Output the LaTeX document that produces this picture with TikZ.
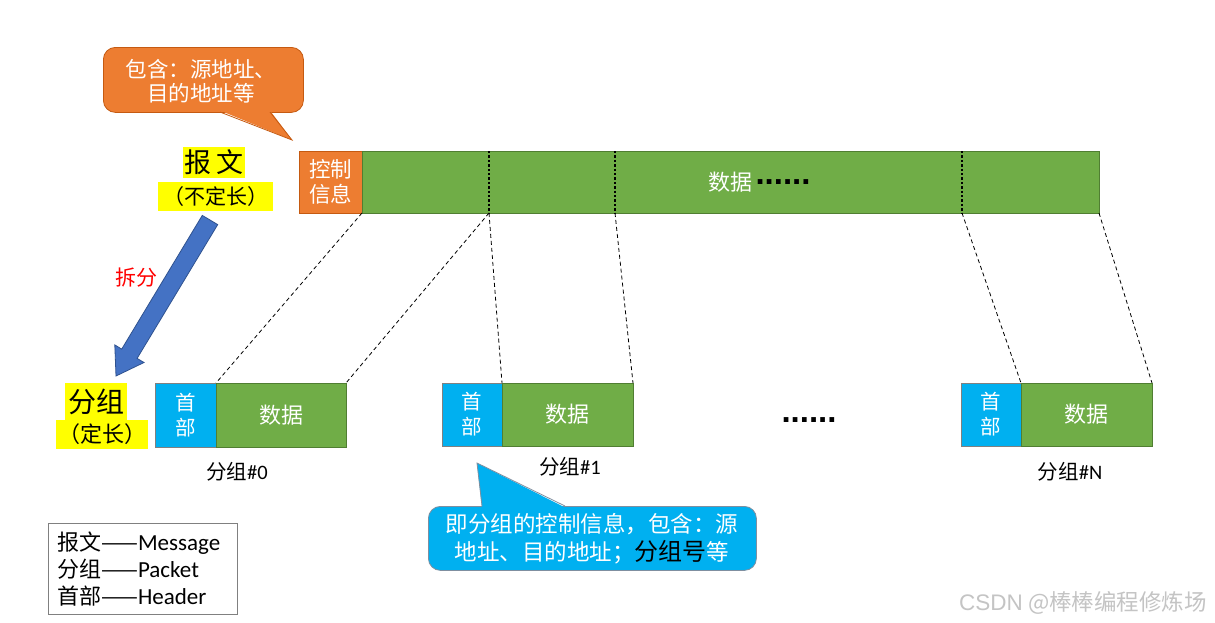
\documentclass[tikz,border=0pt]{standalone}
\usepackage{fontspec}
\setmainfont{Noto Sans CJK SC}
\newfontfamily\lat{Carlito}
\newfontfamily\ars{Liberation Sans}
\usetikzlibrary{calc}
\definecolor{orgC}{HTML}{ED7D31}
\definecolor{orgD}{HTML}{C55A11}
\definecolor{grnC}{HTML}{70AD47}
\definecolor{grnD}{HTML}{507E32}
\definecolor{bluC}{HTML}{00B0F0}
\definecolor{bluD}{HTML}{7F8FA0}
\definecolor{arrC}{HTML}{4472C4}
\definecolor{arrD}{HTML}{2F528F}
\definecolor{yel}{HTML}{FFFF00}
\definecolor{wm}{HTML}{C4C4C4}
\begin{document}
\begin{tikzpicture}[x=1pt,y=-1pt,
  box/.style={inner sep=0pt, outer sep=0pt, anchor=north west, text=white, align=center},
  ctrlbox/.style={box, fill=orgC, draw=orgD, line width=1pt},
  databox/.style={box, fill=grnC, draw=grnD, line width=1pt, font=\fontsize{22}{26}\selectfont},
  hdrbox/.style={box, fill=bluC, draw=gray, line width=1pt, font=\fontsize{20.5}{25}\selectfont},
  hl/.style={fill=yel, inner sep=0pt, text=black},
  split/.style={line width=2.4pt, dash pattern=on 2.4pt off 2pt, black},
  conn/.style={line width=0.8pt, dash pattern=on 4pt off 3pt, black},
  pktlabel/.style={font=\fontsize{20.5}{24}\selectfont, text=black, inner sep=0pt},
  dotrow/.style={font=\ars\bfseries\fontsize{33}{33}\selectfont, text=black, inner sep=0pt},
]
\useasboundingbox[fill=white] (0,0) rectangle (1215,622);

% ---- message bar ----
\node[ctrlbox, minimum width=63pt, minimum height=62pt, font=\fontsize{21.5}{25}\selectfont] (ctrl) at (299,151) {控制\\信息};
\node[databox, minimum width=737pt, minimum height=62pt] (data) at (362,151) {};
\node[font=\fontsize{22}{26}\selectfont, text=white, inner sep=0pt] (datatxt) at (730,182) {数据};
\node[dotrow] (datadots) at (783,182) {......};
\coordinate (s1t) at (489,151); \coordinate (s1b) at (489,213);
\coordinate (s2t) at (615,151); \coordinate (s2b) at (615,213);
\coordinate (s3t) at (962,151); \coordinate (s3b) at (962,213);
\draw[split] (s1t) -- (s1b);
\draw[split] (s2t) -- (s2b);
\draw[split] (s3t) -- (s3b);

% ---- orange callout ----
\node[fill=orgC, draw=orgD, line width=0.8pt, rounded corners=12pt, minimum width=200pt, minimum height=65pt, anchor=north west, inner sep=0pt] (oc) at (103,47) {};
\fill[orgC] (220,110.5) -- (270,110.5) -- (292,140) -- cycle;
\draw[orgD, line width=0.8pt] (220,112) -- (292,140) -- (270,112);
\node[text=white, font=\fontsize{21.5}{24}\selectfont, align=center, inner sep=0pt] (octxt) at (201,81) {包含：源地址、\\目的地址等};

% ---- labels left ----
\node[hl, minimum width=62pt, minimum height=31pt, font=\fontsize{27}{30}\selectfont] (msg) at (214,162.5) {报\,文};
\node[hl, minimum width=115pt, minimum height=29pt, font=\fontsize{21}{24}\selectfont] (msglen) at (215.5,196.5) {（不定长）};
\node[hl, minimum width=62pt, minimum height=37pt, font=\fontsize{28}{30}\selectfont] (pkt) at (96,401.5) {分组};
\node[hl, minimum width=92pt, minimum height=29pt, font=\fontsize{22}{24}\selectfont] (pktlen) at (102,434.5) {（定长）};

% ---- split arrow ----
\filldraw[fill=arrC, draw=arrD, line width=0.8pt]
  (202.3,215.4) -- (121.7,349.1) -- (114.8,344.9) -- (116,376) -- (144.0,362.5) -- (137.1,358.4) -- (217.7,224.6) -- cycle;
\node[text=red, font=\fontsize{21}{24}\selectfont, inner sep=0pt] (splittxt) at (136,278) {拆分};

% ---- packets ----
\node[hdrbox, minimum width=61pt, minimum height=64pt] (h0) at (155,383) {首\\部};
\node[databox, minimum width=130pt, minimum height=64pt] (d0) at (216,383) {数据};
\node[hdrbox, minimum width=60pt, minimum height=63pt] (h1) at (442,383) {首\\部};
\node[databox, minimum width=131pt, minimum height=63pt] (d1) at (502,383) {数据};
\node[hdrbox, minimum width=60pt, minimum height=63pt] (hN) at (961,383) {首\\部};
\node[databox, minimum width=131pt, minimum height=63pt] (dN) at (1021,383) {数据};

\node[pktlabel] (l0) at (237,472) {分组{\lat\#0}};
\node[pktlabel] (l1) at (570,467) {分组{\lat\#1}};
\node[pktlabel] (lN) at (1070,472) {分组{\lat\#N}};
\node[dotrow] (mdots) at (809,420) {......};

% ---- connectors ----
\draw[conn] (ctrl.south east) -- (h0.north east);
\draw[conn] (s1b) -- (d0.north east);
\draw[conn] (s1b) -- (h1.north east);
\draw[conn] (s2b) -- (d1.north east);
\draw[conn] (s3b) -- (hN.north east);
\draw[conn] (data.south east) -- (dN.north east);

% ---- blue callout ----
\node[fill=bluC, draw=bluD, line width=0.8pt, rounded corners=12pt, minimum width=328pt, minimum height=64pt, anchor=north west, inner sep=0pt] (bc) at (428,506) {};
\fill[bluC] (482,507.5) -- (565,507.5) -- (477,463) -- cycle;
\draw[bluD, line width=0.8pt] (482,506) -- (477,463) -- (565,506);
\node[text=white, font=\fontsize{22.5}{28}\selectfont, align=center, inner sep=0pt] (bctxt) at (592,539) {即分组的控制信息，包含：源\\地址、目的地址；\textcolor{black}{\fontsize{24}{28}\selectfont 分组号}等};

% ---- legend ----
\node[draw=gray, line width=1pt, anchor=north west, minimum width=189pt, minimum height=91pt, inner sep=0pt] (legend) at (48,523) {};
\node[anchor=west, align=left, font=\fontsize{22}{27}\selectfont, inner sep=0pt] (legtxt) at (57,569) {报文——{\lat\fontsize{23}{27}\selectfont Message}\\分组——{\lat\fontsize{23}{27}\selectfont Packet}\\首部——{\lat\fontsize{23}{27}\selectfont Header}};

% ---- watermark ----
\node[text=wm, font=\fontsize{22.5}{24}\selectfont, inner sep=0pt] (wmark) at (1083,603) {{\ars CSDN} @棒棒编程修炼场};
\end{tikzpicture}
\end{document}
